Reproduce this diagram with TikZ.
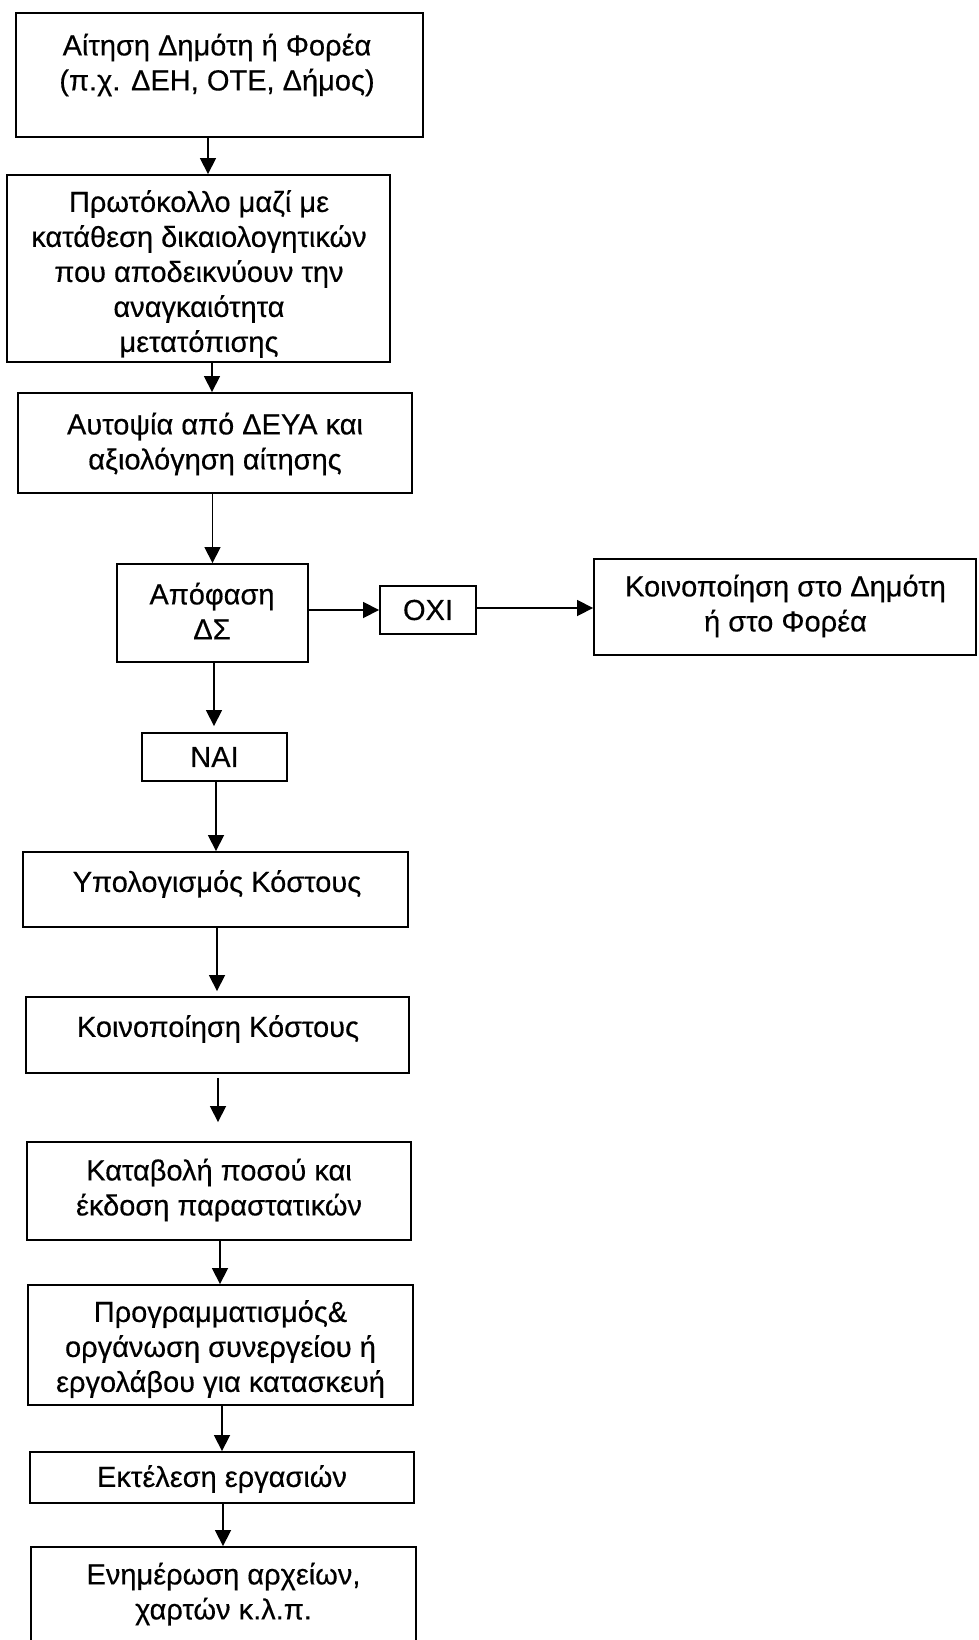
\documentclass[tikz,border=0pt]{standalone}
\usepackage{fontspec}
\setmainfont{Liberation Sans}[FakeBold=0.4]
\usetikzlibrary{arrows.meta}
\tikzset{
  box/.style={draw, line width=1.9pt, rectangle, inner sep=0pt},
  txt/.style={inner sep=0pt, align=center, font=\fontsize{29}{35}\selectfont},
  arr/.style={line width=1.7pt, -{Triangle[length=16pt,width=16pt]}},
}
\begin{document}
\begin{tikzpicture}[x=1pt,y=-1pt]
\useasboundingbox (0,0) rectangle (978,1640);
% boxes
\node[box, minimum width=407pt, minimum height=124pt] (b1) at (219.5,75) {};
\node[txt] (t1) at (217,65) {Αίτηση Δημότη ή Φορέα\\(π.χ. ΔΕΗ, ΟΤΕ, Δήμος)};
\node[box, minimum width=383pt, minimum height=187pt] (b2) at (198.5,268.5) {};
\node[txt] (t2) at (199,274) {Πρωτόκολλο μαζί με\\κατάθεση δικαιολογητικών\\που αποδεικνύουν την\\αναγκαιότητα\\μετατόπισης};
\node[box, minimum width=394pt, minimum height=100pt] (b3) at (215,443) {};
\node[txt] (t3) at (215,444) {Αυτοψία από ΔΕΥΑ και\\αξιολόγηση αίτησης};
\node[box, minimum width=191pt, minimum height=98pt] (b4) at (212.5,613) {};
\node[txt] (t4) at (212,611) {Απόφαση\\ΔΣ};
\node[box, minimum width=96pt, minimum height=48pt] (oxi) at (428,610) {};
\node[txt] (toxi) at (428,610) {ΟΧΙ};
\node[box, minimum width=382pt, minimum height=96pt] (br) at (785,607) {};
\node[txt] (tr) at (785.5,606) {Κοινοποίηση στο Δημότη\\ή στο Φορέα};
\node[box, minimum width=145pt, minimum height=48pt] (nai) at (214.5,757) {};
\node[txt] (tnai) at (214.5,757) {ΝΑΙ};
\node[box, minimum width=385pt, minimum height=75pt] (b5) at (215.5,889.5) {};
\node[txt] (t5) at (217,884) {Υπολογισμός Κόστους};
\node[box, minimum width=383pt, minimum height=76pt] (b6) at (217.5,1035) {};
\node[txt] (t6) at (218,1029) {Κοινοποίηση Κόστους};
\node[box, minimum width=384pt, minimum height=98pt] (b7) at (219,1191) {};
\node[txt] (t7) at (219,1190) {Καταβολή ποσού και\\έκδοση παραστατικών};
\node[box, minimum width=385pt, minimum height=120pt] (b8) at (220.5,1345) {};
\node[txt] (t8) at (220.5,1349) {Προγραμματισμός\&\\οργάνωση συνεργείου ή\\εργολάβου για κατασκευή};
\node[box, minimum width=384pt, minimum height=51pt] (b9) at (222,1477.5) {};
\node[txt] (t9) at (222,1479) {Εκτέλεση εργασιών};
\node[box, minimum width=385pt, minimum height=120pt] (b10) at (223.5,1607) {};
\node[txt] (t10) at (223.5,1594) {Ενημέρωση αρχείων,\\χαρτών κ.λ.π.};
% connectors
\coordinate (a1) at (208,0);
\draw[arr] (b1.south -| a1) -- (b2.north -| a1);
\coordinate (a2) at (212,0);
\draw[arr] (b2.south -| a2) -- (b3.north -| a2);
\draw[arr] (b3.south -| b4.north) -- (b4.north);
\draw[arr] (b4.east |- oxi.west) -- (oxi.west);
\coordinate (a5) at (0,608);
\draw[arr] (oxi.east |- a5) -- (br.west |- a5);
\coordinate (a6) at (214,0);
\draw[arr] (b4.south -| a6) -- ([yshift=6pt]nai.north -| a6);
\coordinate (a7) at (216,0);
\draw[arr] (nai.south -| a7) -- (b5.north -| a7);
\coordinate (a8) at (217,0);
\draw[arr] (b5.south -| a8) -- ([yshift=5pt]b6.north -| a8);
\coordinate (a9) at (218,0);
\draw[arr] ([yshift=-4pt]b6.south -| a9) -- ([yshift=19pt]b7.north -| a9);
\coordinate (a10) at (220,0);
\draw[arr] (b7.south -| a10) -- (b8.north -| a10);
\coordinate (a11) at (222,0);
\draw[arr] (b8.south -| a11) -- (b9.north -| a11);
\coordinate (a12) at (223,0);
\draw[arr] (b9.south -| a12) -- (b10.north -| a12);
\end{tikzpicture}
\end{document}
